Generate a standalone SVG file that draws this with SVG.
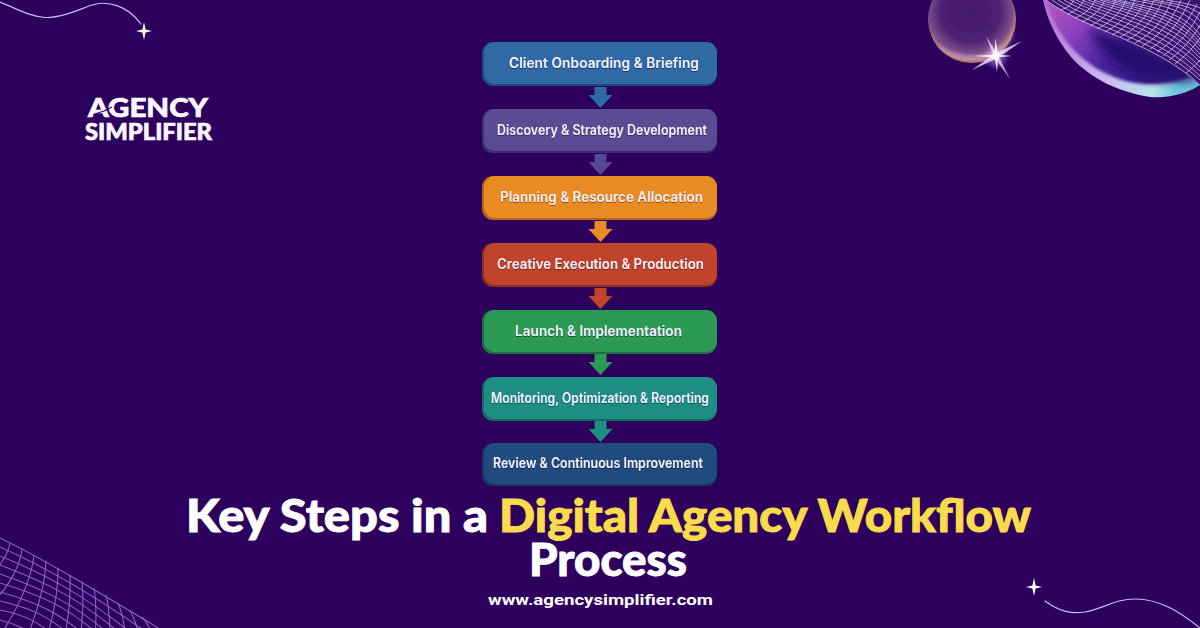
<svg xmlns="http://www.w3.org/2000/svg" width="1200" height="628" viewBox="0 0 1200 628">
<style>
.label{font-family:"Inter","Liberation Sans",sans-serif;font-size:14px;font-weight:600;fill:#f3eefc;filter:url(#ts)}
.title{font-family:"Lato","Liberation Sans",sans-serif;font-size:45px;font-weight:900;stroke-width:.9px}
.white{fill:#fff;stroke:#fff}
.gold{fill:#f9dc4b;stroke:#f9dc4b}
.logo{font-family:"Lato","Liberation Sans",sans-serif;font-weight:900;fill:#fbf6ff;stroke:#fbf6ff;stroke-width:.7px}
.url{font-family:"Roboto","Liberation Sans",sans-serif;font-size:15.5px;font-weight:700;fill:#fff}
.sw{fill:none;stroke:#d6b6f2;stroke-width:1.2;stroke-linecap:round}
.mb{fill:none;stroke:#9060cc;stroke-width:1.1}
.mt{fill:none;stroke:#e2d2f4;stroke-width:.8;opacity:.9}
.star{fill:#fff}
</style>
<defs>
<filter id="ts" x="-5%" y="-30%" width="110%" height="160%"><feDropShadow dx="0" dy="1" stdDeviation=".6" flood-color="#000" flood-opacity=".45"/></filter>
<filter id="b1" x="-20%" y="-20%" width="140%" height="140%"><feGaussianBlur stdDeviation="1.5"/></filter>
<filter id="b2" x="-30%" y="-30%" width="160%" height="160%"><feGaussianBlur stdDeviation="5"/></filter>
<filter id="b3" x="-30%" y="-30%" width="160%" height="160%"><feGaussianBlur stdDeviation=".6"/></filter>
<clipPath id="clipBig"><path d="M1043,0 C1047,20 1058,42 1072,58 C1090,78 1118,92 1150,97 C1170,99 1190,92 1200,85 V0Z"/></clipPath>
<radialGradient id="bub" cx=".48" cy=".42" r=".56">
<stop offset="0" stop-color="#43196f"/><stop offset=".6" stop-color="#4c2274"/><stop offset=".86" stop-color="#7d4f8a"/><stop offset=".97" stop-color="#c0926f"/><stop offset="1" stop-color="#a8766a"/>
</radialGradient>
<linearGradient id="big" x1="0" y1="0" x2="1" y2=".7">
<stop offset="0" stop-color="#b855b8"/><stop offset=".28" stop-color="#8e44c0"/><stop offset=".6" stop-color="#4a249c"/><stop offset="1" stop-color="#2c1a80"/>
</linearGradient>
<linearGradient id="rim" x1="0" y1="0" x2="1" y2=".2">
<stop offset="0" stop-color="#b070d8"/><stop offset=".55" stop-color="#cdbcf0"/><stop offset=".85" stop-color="#b8e2ee"/><stop offset="1" stop-color="#6cc8d8"/>
</linearGradient>
<radialGradient id="glow"><stop offset="0" stop-color="#fff" stop-opacity=".95"/><stop offset=".3" stop-color="#e8b8ff" stop-opacity=".55"/><stop offset="1" stop-color="#c070ff" stop-opacity="0"/></radialGradient>
<path id="sparkle" d="M0,-9 L1.6,-1.6 L8,0 L1.6,1.6 L0,9 L-1.6,1.6 L-8,0 L-1.6,-1.6Z"/>
<path id="arrow" d="M-6,0 H6 V8 H12 L0,21 L-12,8 H-6Z"/>
</defs>
<rect width="1200" height="628" fill="#2e005e"/>

<g id="decor-top-left">
<path class="sw" d="M0,2 C15,8 28,16 45,17.500 C62,18 80,9 92,5 C108,0 128,6 141,24"/>
<use href="#sparkle" class="star" x="144" y="31"/>
</g>

<g id="decor-top-right">
<circle cx="972" cy="19" r="44" fill="url(#bub)" filter="url(#b3)"/>
<path d="M934,42 C945,58 965,63 985,60 C1000,58 1012,45 1015,32 C1008,46 995,54 975,55 C958,55 945,51 934,42Z" fill="#c58fc8" opacity=".6" filter="url(#b1)"/>
<circle cx="996" cy="56" r="14" fill="url(#glow)"/>
<g class="star" opacity=".9">
<path d="M995.500,38 L998,56 L997,72 L994.500,56Z"/>
<path d="M986,36 L998,55 L1010,79 L994,57Z" opacity=".7"/>
<path d="M1022,41 L998,58 L972,70 L994,54Z" opacity=".8"/>
<path d="M974,56 L996,54.500 L1012,56 L996,57.500Z"/>
</g>
<circle cx="996" cy="56" r="3.500" fill="#fff"/>

<path d="M1043,0 C1047,20 1058,42 1072,58 C1090,78 1118,92 1150,97 C1170,99 1190,92 1200,85 L1200,0Z" fill="url(#rim)" filter="url(#b3)"/>
<g clip-path="url(#clipBig)">
<path d="M1046,0 C1052,22 1064,42 1080,56 C1100,74 1125,84 1150,84 C1170,84 1190,78 1200,72 L1200,0Z" fill="url(#big)" filter="url(#b1)"/>
<path d="M1088,28 C1110,36 1150,48 1167,58 C1180,66 1190,75 1200,80 C1180,82 1160,82 1140,78 C1120,72 1100,52 1088,28Z" fill="#281070" filter="url(#b2)"/>
<path d="M1046,0 C1085,30 1155,42 1205,90 V0Z" fill="#3a1272"/>
</g>
<g id="mesh-top">
<path class="mt" d="M1046,0 C1085,30 1155,42 1200,85"/>
<path class="mt" d="M1052,0 C1090,27 1157,39 1200,80"/>
<path class="mt" d="M1058,0 C1095,24 1160,36 1200,76"/>
<path class="mt" d="M1064,0 C1100,21 1162,33 1200,71"/>
<path class="mt" d="M1070,0 C1105,18 1165,30 1200,67"/>
<path class="mt" d="M1076,0 C1110,16 1167,27 1200,62"/>
<path class="mt" d="M1082,0 C1115,14 1170,24 1200,58"/>
<path class="mt" d="M1088,0 C1120,12 1172,21 1200,54"/>
<path class="mt" d="M1094,0 C1125,11 1175,18 1200,50"/>
<path class="mt" d="M1100,0 C1130,9 1176,16 1200,46"/>
<path class="mt" d="M1106,0 C1135,8 1178,14 1200,43"/>
<path class="mt" d="M1112,0 C1140,7 1180,12 1200,39"/>
<path class="mt" d="M1118,0 C1145,6 1182,10 1200,35"/>
<path class="mt" d="M1130,0 C1155,4 1185,8 1200,28"/>
<path class="mt" d="M1142,0 C1162,3 1188,6 1200,21"/>
<path class="mt" d="M1154,0 C1170,3 1190,5 1200,14"/>
<path class="mt" d="M1166,0 C1178,2 1192,4 1200,8"/>
<path class="mt" d="M1060,10 C1068,8 1072,4 1074,0"/>
<path class="mt" d="M1068,14 C1076,11 1081,6 1084,0"/>
<path class="mt" d="M1075,18 C1085,14 1092,8 1095,0"/>
<path class="mt" d="M1082,22 C1093,17 1101,9 1105,0"/>
<path class="mt" d="M1090,26 C1102,20 1112,10 1116,0"/>
<path class="mt" d="M1097,29 C1110,23 1121,12 1126,0"/>
<path class="mt" d="M1105,32 C1118,26 1130,14 1135,0"/>
<path class="mt" d="M1112,35 C1126,28 1139,15 1145,0"/>
<path class="mt" d="M1120,37 C1135,30 1148,16 1154,0"/>
<path class="mt" d="M1127,40 C1142,33 1156,17 1163,0"/>
<path class="mt" d="M1135,43 C1150,36 1165,18 1172,0"/>
<path class="mt" d="M1142,46 C1158,38 1172,20 1181,0"/>
<path class="mt" d="M1150,49 C1165,40 1180,22 1190,0"/>
<path class="mt" d="M1157,52 C1172,43 1186,25 1197,4"/>
<path class="mt" d="M1163,56 C1178,46 1192,28 1200,12"/>
<path class="mt" d="M1169,60 C1183,50 1194,36 1200,25"/>
<path class="mt" d="M1175,64 C1188,54 1196,44 1200,38"/>
<path class="mt" d="M1186,73 C1192,68 1197,64 1200,60"/>
</g>
</g>

<g id="logo">
<text class="logo" x="88" y="117" font-size="27" textLength="120" lengthAdjust="spacingAndGlyphs">AGENCY</text>
<path d="M93,115 C100,112 106,111 112,107" fill="none" stroke="#2e005e" stroke-width="1.100"/>
<text class="logo" x="85" y="140" font-size="23" textLength="127" lengthAdjust="spacingAndGlyphs">SIMPLIFIER</text>
</g>

<g id="connectors">
<use href="#arrow" x="600.500" y="87" fill="#2b6aa5"/>
<use href="#arrow" x="600.500" y="154" fill="#574794"/>
<use href="#arrow" x="600.500" y="221" fill="#e98a22"/>
<use href="#arrow" x="600.500" y="288" fill="#c0432c"/>
<use href="#arrow" x="600.500" y="354" fill="#2c9a55"/>
<use href="#arrow" x="600.500" y="421" fill="#1f8e82"/>
</g>

<g id="node-1"><rect x="482" y="42" width="235" height="44" rx="11" fill="#1e4b7e"/><rect x="484" y="42" width="233" height="42" rx="11" fill="#2f6aa6"/><text class="label" x="509" y="68" textLength="190" lengthAdjust="spacingAndGlyphs">Client Onboarding &amp; Briefing</text></g>
<g id="node-2"><rect x="482" y="109" width="235" height="44" rx="11" fill="#3d3170"/><rect x="484" y="109" width="233" height="42" rx="11" fill="#5b4a94"/><text class="label" x="497" y="135" textLength="210" lengthAdjust="spacingAndGlyphs">Discovery &amp; Strategy Development</text></g>
<g id="node-3"><rect x="482" y="176" width="235" height="44" rx="11" fill="#b5651a"/><rect x="484" y="176" width="233" height="42" rx="11" fill="#e98a22"/><text class="label" x="500" y="202" textLength="203" lengthAdjust="spacingAndGlyphs">Planning &amp; Resource Allocation</text></g>
<g id="node-4"><rect x="482" y="243" width="235" height="44" rx="11" fill="#8f2e20"/><rect x="484" y="243" width="233" height="42" rx="11" fill="#c0432c"/><text class="label" x="497" y="269" textLength="207" lengthAdjust="spacingAndGlyphs">Creative Execution &amp; Production</text></g>
<g id="node-5"><rect x="482" y="310" width="235" height="44" rx="11" fill="#1f7040"/><rect x="484" y="310" width="233" height="42" rx="11" fill="#2c9a55"/><text class="label" x="515" y="336" textLength="167" lengthAdjust="spacingAndGlyphs">Launch &amp; Implementation</text></g>
<g id="node-6"><rect x="482" y="377" width="235" height="44" rx="11" fill="#156a62"/><rect x="484" y="377" width="233" height="42" rx="11" fill="#1f8e82"/><text class="label" x="491" y="403" textLength="218" lengthAdjust="spacingAndGlyphs">Monitoring, Optimization &amp; Reporting</text></g>
<g id="node-7"><rect x="482" y="443" width="235" height="43" rx="11" fill="#163760"/><rect x="484" y="443" width="233" height="41" rx="11" fill="#1f4b7f"/><text class="label" x="493" y="468" textLength="210" lengthAdjust="spacingAndGlyphs">Review &amp; Continuous Improvement</text></g>

<g id="title">
<text class="title white" x="186" y="532" textLength="302" lengthAdjust="spacingAndGlyphs">Key Steps in a</text>
<text class="title gold" x="499" y="532" textLength="532" lengthAdjust="spacingAndGlyphs">Digital Agency Workflow</text>
<text class="title white" x="529" y="576" textLength="158" lengthAdjust="spacingAndGlyphs">Process</text>
<text class="url" x="488" y="605" textLength="225" lengthAdjust="spacingAndGlyphs">www.agencysimplifier.com</text>
</g>

<g id="decor-bottom-left">
<path class="mb" d="M0,538 C45,560 95,590 165,632"/>
<path class="mb" d="M0,547 C45,567 90,592 152,636"/>
<path class="mb" d="M0,556 C45,574 85,595 140,640"/>
<path class="mb" d="M0,565 C45,582 80,598 128,640"/>
<path class="mb" d="M0,574 C40,588 75,603 116,640"/>
<path class="mb" d="M0,583 C40,595 70,607 104,640"/>
<path class="mb" d="M0,592 C35,602 60,612 90,640"/>
<path class="mb" d="M0,601 C30,608 50,616 76,640"/>
<path class="mb" d="M0,610 C25,615 40,622 58,640"/>
<path class="mb" d="M0,620 C15,624 30,630 40,640"/>
<path class="mb" d="M10,543 C8,555 0,565 -8,575"/>
<path class="mb" d="M22,549 C20,565 10,585 -5,600"/>
<path class="mb" d="M34,555 C32,575 22,600 5,628"/>
<path class="mb" d="M46,561 C45,585 38,610 26,640"/>
<path class="mb" d="M58,568 C58,590 54,615 46,640"/>
<path class="mb" d="M70,575 C71,595 68,620 64,640"/>
<path class="mb" d="M82,581 C84,600 82,625 80,640"/>
<path class="mb" d="M94,588 C97,605 96,625 95,640"/>
<path class="mb" d="M106,595 C110,610 110,628 110,640"/>
<path class="mb" d="M118,603 C123,615 125,630 125,640"/>
<path class="mb" d="M130,610 C135,620 138,630 140,640"/>
<path class="mb" d="M142,617 C147,622 150,628 153,636"/>
</g>

<g id="decor-bottom-right">
<use href="#sparkle" class="star" x="1034" y="587"/>
<path class="sw" d="M1045,601 C1060,612 1072,614 1085,612 C1105,608 1115,599 1135,599 C1160,599 1180,612 1200,628"/>
</g>
</svg>
